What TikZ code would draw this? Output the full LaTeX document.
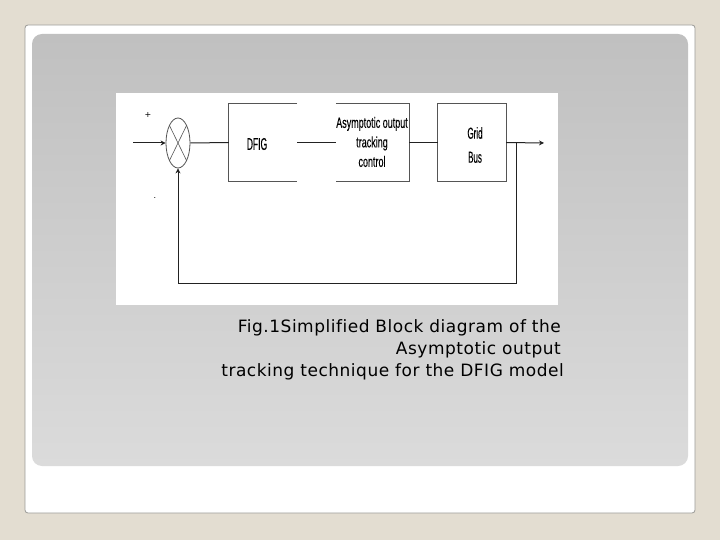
\documentclass[tikz,border=0pt]{standalone}
\usepackage{fontspec}
\setmainfont{DejaVu Sans}
\newfontfamily\capfont[LetterSpace=3,Ligatures=NoCommon]{DejaVu Sans}
\newfontfamily\narrowfont[FakeStretch=0.6,FakeBold=0.12]{Liberation Sans}
\newfontfamily\narrowerfont[FakeStretch=0.5,FakeBold=0.12]{Liberation Sans}
\usetikzlibrary{shapes.geometric,arrows.meta}
\definecolor{bgbeige}{HTML}{E3DDD1}
\definecolor{cardedge}{HTML}{9A9A96}
\definecolor{paneltop}{HTML}{C0C0C0}
\definecolor{panelbot}{HTML}{DBDBDB}
\definecolor{linegray}{HTML}{222222}
\definecolor{boxgray}{HTML}{555555}
\tikzset{
  blk/.style={draw=none, minimum height=77pt, inner sep=0pt},
  blktext/.style={text=black, align=center, inner sep=0pt},
  wire/.style={draw=linegray, line width=1pt},
  side/.style={draw=boxgray, line width=1.2pt},
  captext/.style={font=\capfont\fontsize{17}{20}\selectfont, text=black, anchor=base east, inner sep=0pt},
  tip/.style={-{Stealth[length=5pt,width=5pt]}}
}
\begin{document}
\begin{tikzpicture}[x=1pt,y=-1pt]
\useasboundingbox (0,0) rectangle (720,540);
\fill[bgbeige] (0,0) rectangle (720,540);
% card
\fill[white, draw=cardedge, line width=0.8pt, rounded corners=3pt] (25,25) rectangle (695,513);
% panel
\shade[top color=paneltop, bottom color=panelbot, rounded corners=10pt] (32,34) rectangle (688,466);
% figure area
\fill[white] (116,93) rectangle (558,305);

% blocks
\node[blk, minimum width=68pt] (dfig) at (263,142.5) {};
\node[blk, minimum width=73pt] (atc) at (372.5,142.5) {};
\node[blk, minimum width=68pt] (grid) at (472,142.5) {};
\draw[side] (dfig.north east) -- (dfig.north west) -- (dfig.south west) -- (dfig.south east);
\draw[side] (atc.north west) -- (atc.north east) -- (atc.south east) -- (atc.south west);
\draw[side] (grid.north west) rectangle (grid.south east);

\node[blktext, font=\narrowerfont\fontsize{17}{20}\selectfont] (dfigt) at (257,144) {DFIG};
\node[blktext, font=\narrowfont\fontsize{15}{19.5}\selectfont] (atct) at (372,142) {Asymptotic output\\tracking\\control};
\node[blktext, font=\narrowerfont\fontsize{16}{24}\selectfont] (gridt) at (475,145) {Grid\\Bus};

% summing junction
\node[ellipse, draw=boxgray, line width=0.8pt, minimum width=24pt, minimum height=50pt, inner sep=0pt] (sum) at (178,143) {};
\draw[boxgray, line width=0.6pt] (sum.north west) -- (sum.south east);
\draw[boxgray, line width=0.6pt] (sum.north east) -- (sum.south west);
\node[font=\fontsize{8}{8}\selectfont, inner sep=0pt] (plus) at (148,115) {+};
\node[font=\fontsize{8}{8}\selectfont, inner sep=0pt] (minus) at (155,198) {.};

% connectors
\coordinate (in) at (133,143);
\coordinate (out) at (544,143);
\coordinate (br) at (516,143);
\coordinate (brd) at (516,283);
\coordinate (bl) at (178,283);
\draw[wire, tip] (in) -- (sum.west);
\draw[wire] (sum.east) -- (dfig.west);
\draw[wire] (dfig.east) -- (atc.west);
\draw[wire] (atc.east) -- (grid.west);
\draw[wire, tip] (grid.east) -- (out);
\draw[wire, tip] (br) -- (brd) -- (bl) -- (sum.south);

% caption
\node[captext] (c1) at (561,332) {Fig.1Simplified Block diagram of the};
\node[captext] (c2) at (561,354) {Asymptotic output};
\node[captext] (c3) at (564,376) {tracking technique for the DFIG model};
\end{tikzpicture}
\end{document}
